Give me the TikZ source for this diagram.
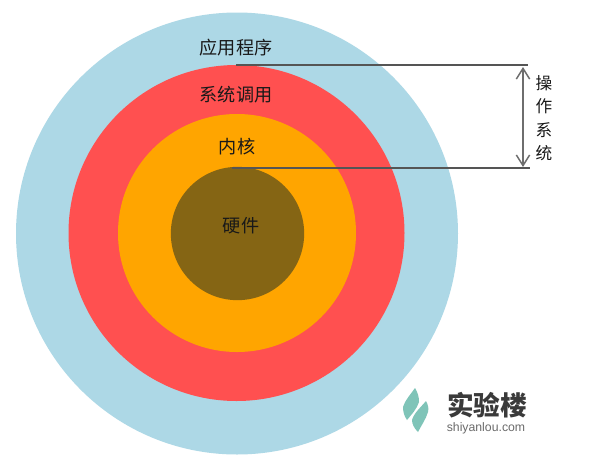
\documentclass[tikz,border=0pt]{standalone}
\usepackage{fontspec}
\setmainfont{Noto Sans CJK SC}
\newfontfamily\latinf{Liberation Sans}
\definecolor{ringblue}{HTML}{ADD8E6}
\definecolor{ringred}{HTML}{FF5050}
\definecolor{ringorange}{HTML}{FFA500}
\definecolor{ringbrown}{HTML}{856514}
\definecolor{linegray}{HTML}{555555}
\definecolor{logoteal}{HTML}{7FC4B8}
\definecolor{logotext}{HTML}{3A3A3A}
\usetikzlibrary{arrows.meta}
\tikzset{
  lbl/.style={font=\fontsize{13.6pt}{15pt}\selectfont, text=black!90, inner sep=0pt},
  ring/.style={circle, minimum size=#1, inner sep=0pt, draw=none},
  measure/.style={draw=linegray, line width=0.95pt},
  dimarrow/.style={draw=linegray!85, line width=1.1pt, {Straight Barb[length=8pt,width=10pt]}-{Straight Barb[length=8pt,width=10pt]}},
}
\begin{document}
\begin{tikzpicture}[x=0.75pt,y=-0.75pt]
\useasboundingbox (0,0) rectangle (611,458);
\fill[white] (0,0) rectangle (611,458);
\node[ring=331.5pt, fill=ringblue] (r1) at (237,233.5) {};
\node[ring=252pt, fill=ringred] (r2) at (236.5,233) {};
\node[ring=178.5pt, fill=ringorange] (r3) at (237,233) {};
\node[ring=100pt, fill=ringbrown] (r4) at (237.5,233.5) {};
\node[lbl] (t1) at (236,48) {应用程序};
\node[lbl] (t2) at (236,95) {系统调用};
\node[lbl] (t3) at (237,147) {内核};
\node[lbl] (t4) at (241,226) {硬件};
\coordinate (a1) at (236,65);
\coordinate (b1) at (528,65);
\coordinate (a2) at (232,168);
\coordinate (b2) at (530,168);
\draw[measure] (a1) -- (b1);
\draw[measure] (a2) -- (b2);
\coordinate (u) at (523,67);
\coordinate (d) at (523,167);
\draw[dimarrow] (u) -- (d);
\node[lbl, font=\fontsize{12.5pt}{14pt}\selectfont] (s1) at (544,83) {操};
\node[lbl, font=\fontsize{12.5pt}{14pt}\selectfont] (s2) at (544,106) {作};
\node[lbl, font=\fontsize{12.5pt}{14pt}\selectfont] (s3) at (544,130) {系};
\node[lbl, font=\fontsize{12.5pt}{14pt}\selectfont] (s4) at (544,153) {统};
% logo
\fill[logoteal] (415,388) .. controls (418,393) and (419,397) .. (419,402) .. controls (417,409) and (411,415) .. (407,420) .. controls (404,416) and (403,411) .. (403,407) .. controls (405,400) and (411,394) .. (415,388) -- cycle;
\fill[logoteal] (426,401) .. controls (428,405) and (429,408) .. (428,412) .. controls (426,419) and (421,426) .. (418,432) .. controls (414,428) and (412,424) .. (412,420) .. controls (414,413) and (421,407) .. (426,401) -- cycle;
\node[inner sep=0pt, text=logotext, font=\bfseries\fontsize{20pt}{22pt}\selectfont] (logo) at (487,405) {实验楼};
\node[inner sep=0pt, text=logotext!75, font=\latinf\fontsize{9.2pt}{10pt}\selectfont] (url) at (486,428) {shiyanlou.com};
\end{tikzpicture}
\end{document}
